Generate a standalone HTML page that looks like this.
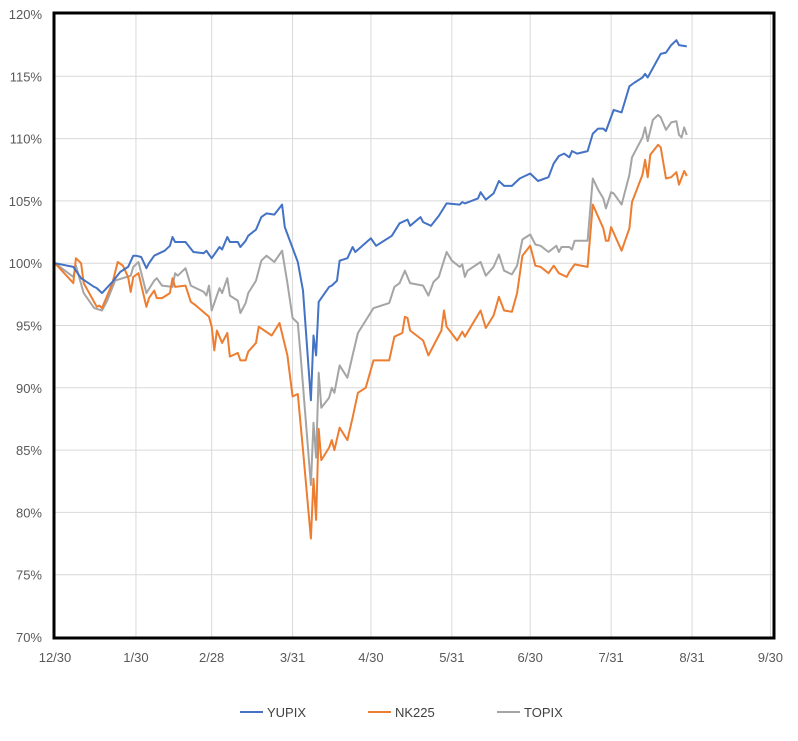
<!DOCTYPE html>
<html><head><meta charset="utf-8"><style>
body{margin:0;background:#fff;width:798px;height:736px;overflow:hidden;font-family:"Liberation Sans",sans-serif}
</style></head><body>
<svg id="chart" width="798" height="736" xmlns="http://www.w3.org/2000/svg"></svg>
<script>
const xTickLabels=["12/30","1/30","2/28","3/31","4/30","5/31","6/30","7/31","8/31","9/30"];
const xTickDays=[0,31,60,91,121,152,182,213,244,274];
const yTickValues=[70,75,80,85,90,95,100,105,110,115,120];
const seriesNames=["YUPIX","NK225","TOPIX"];
const yupixDays=[0,7,10,15,16,18,22,25,28,30,31,33,35,36,38,42,44,45,46,50,53,57,58,59,60,63,64,66,67,70,71,73,74,77,79,81,84,87,88,93,95,98,99,100,101,105,106,108,109,112,114,115,121,123,129,132,135,136,140,141,144,147,150,155,156,157,162,163,165,168,170,172,175,178,182,185,189,191,193,195,197,198,200,204,206,208,210,211,214,217,220,222,225,226,227,232,234,236,238,239,242];
const yupixValues=[100.0,99.7,98.8,98.1,98.0,97.6,98.5,99.3,99.7,100.6,100.6,100.5,99.6,100.0,100.6,101.0,101.4,102.1,101.7,101.7,100.9,100.8,101.0,100.7,100.4,101.3,101.1,102.1,101.7,101.7,101.3,101.8,102.2,102.7,103.7,104.0,103.9,104.7,102.9,100.1,97.8,89.0,94.2,92.6,96.9,98.1,98.2,98.6,100.2,100.4,101.3,100.9,102.0,101.4,102.2,103.2,103.5,103.0,103.7,103.3,103.0,103.8,104.8,104.7,104.9,104.8,105.2,105.7,105.1,105.6,106.6,106.2,106.2,106.8,107.2,106.6,106.9,108.0,108.6,108.8,108.5,109.0,108.8,109.0,110.4,110.8,110.8,110.6,112.3,112.1,114.2,114.5,114.9,115.2,114.9,116.8,116.9,117.5,117.9,117.5,117.4];
const nk225Days=[0,7,8,10,11,16,17,18,22,24,26,28,29,30,32,35,36,38,39,41,44,45,46,50,52,54,59,60,61,62,64,66,67,70,71,73,74,77,78,83,86,89,91,93,95,98,99,100,101,102,105,106,107,109,112,114,116,119,122,128,130,133,134,135,136,141,143,148,149,150,154,156,157,163,165,168,170,172,175,177,179,182,184,186,189,191,193,196,197,199,204,206,210,211,212,213,217,220,221,225,226,227,228,231,232,234,236,238,239,241,242];
const nk225Values=[100.0,98.4,100.4,100.0,98.4,96.5,96.6,96.4,98.4,100.1,99.8,98.9,97.7,98.9,99.2,96.5,97.2,97.8,97.2,97.2,97.6,98.8,98.1,98.2,96.9,96.6,95.7,94.9,93.0,94.6,93.6,94.4,92.5,92.8,92.2,92.2,92.9,93.6,94.9,94.2,95.2,92.6,89.3,89.5,85.0,77.9,82.7,79.4,86.7,84.2,85.2,85.8,85.0,86.8,85.8,87.6,89.6,90.0,92.2,92.2,94.1,94.4,95.7,95.6,94.6,93.8,92.6,94.6,96.2,94.9,93.8,94.5,94.1,96.2,94.8,95.8,97.3,96.2,96.1,97.6,100.6,101.4,99.8,99.7,99.2,99.8,99.2,98.9,99.3,99.9,99.7,104.7,102.8,101.8,101.8,102.9,101.0,102.8,104.9,107.1,108.3,106.9,108.7,109.5,109.3,106.8,106.9,107.3,106.3,107.4,107.0];
const topixDays=[0,7,8,11,15,18,20,23,29,30,32,35,38,39,41,45,46,47,50,52,57,58,59,60,63,64,66,67,70,71,73,74,77,79,81,84,87,89,91,93,94,98,99,100,101,102,105,106,107,109,112,114,116,122,128,130,132,134,136,141,143,145,147,150,152,155,156,157,158,163,165,168,170,172,175,177,179,182,184,186,189,192,193,194,197,198,199,204,206,208,210,211,213,214,217,220,221,225,226,227,229,231,232,234,236,238,239,240,241,242];
const topixValues=[100.0,98.9,99.8,97.6,96.4,96.2,97.0,98.6,99.0,99.7,100.1,97.6,98.6,98.8,98.2,98.1,99.2,99.0,99.6,98.2,97.7,97.4,98.2,96.2,98.0,97.6,98.8,97.4,97.0,96.0,96.8,97.6,98.6,100.2,100.6,100.1,101.0,98.4,95.6,95.2,92.8,82.2,87.2,84.4,91.2,88.4,89.2,90.0,89.6,91.8,90.8,92.6,94.4,96.4,96.8,98.1,98.4,99.4,98.4,98.2,97.4,98.5,98.9,100.9,100.2,99.7,99.9,98.9,99.4,100.1,99.0,99.7,100.7,99.4,99.1,99.8,101.9,102.3,101.5,101.4,100.9,101.4,100.9,101.3,101.3,101.1,101.8,101.8,106.8,105.9,105.2,104.4,105.7,105.6,104.7,107.1,108.5,110.1,110.9,109.8,111.5,111.9,111.7,110.7,111.3,111.4,110.3,110.1,110.9,110.3];

const NS="http://www.w3.org/2000/svg";
const svg=document.getElementById('chart');
const L=55,R=773,T=14,B=637,D0=0,D1=275,Y0=70,Y1=120;
const xs=d=>L+(d-D0)/(D1-D0)*(R-L);
const ys=v=>B-(v-Y0)/(Y1-Y0)*(B-T);
function mk(tag,attrs,parent){const e=document.createElementNS(NS,tag);for(const k in attrs)e.setAttribute(k,attrs[k]);(parent||svg).appendChild(e);return e;}

const grid=mk('g',{});


yTickValues.forEach(v=>{
  const l=mk('line',{x1:L,x2:R,y1:ys(v),y2:ys(v),stroke:'#d9d9d9','stroke-width':1},grid);
  
  
  const t=mk('text',{x:42,y:ys(v)+5,'text-anchor':'end','font-size':13,fill:'#595959'});
  
  
  t.textContent=v+'%';
});
xTickDays.forEach((d,i)=>{
  const l=mk('line',{x1:xs(d),x2:xs(d),y1:T,y2:B,stroke:'#d9d9d9','stroke-width':1},grid);
  
  
  const t=mk('text',{x:xs(d),y:662,'text-anchor':'middle','font-size':13,fill:'#595959'});
  
  
  t.textContent=xTickLabels[i];
});

const colors=['#4472c4','#ed7d31','#a5a5a5'];
const data=[[yupixDays,yupixValues],[nk225Days,nk225Values],[topixDays,topixValues]];
[2,1,0].forEach(i=>{
  const [ds,vs]=data[i];
  const pts=ds.map((d,j)=>xs(d).toFixed(1)+','+ys(vs[j]).toFixed(1)).join(' ');
  const p=mk('polyline',{points:pts,fill:'none',stroke:colors[i],'stroke-width':2,'stroke-linejoin':'round'});
  
  
});

const frame=mk('rect',{x:L-1,y:T-1,width:R-L+2,height:B-T+2,fill:'none',stroke:'#000','stroke-width':3});



const legX=[240,368,497];
seriesNames.forEach((n,i)=>{
  const g=mk('g',{});
  
  
  mk('line',{x1:legX[i],x2:legX[i]+23,y1:712,y2:712,stroke:colors[i],'stroke-width':2},g);
  const t=mk('text',{x:legX[i]+27,y:717,'font-size':13,fill:'#404040'},g);
  t.textContent=n;
});
</script>
</body></html>
